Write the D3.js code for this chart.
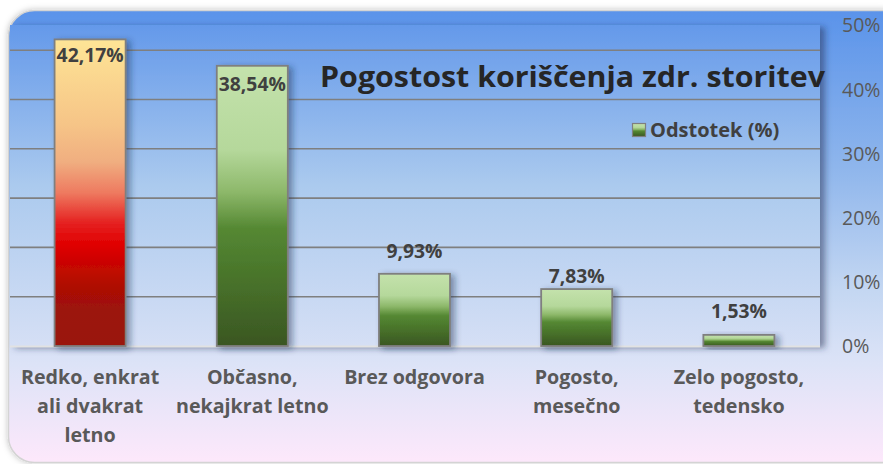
<!DOCTYPE html>
<html>
<head>
<meta charset="utf-8">
<script src="https://cdn.jsdelivr.net/npm/d3@7"></script>
<style>
html,body{margin:0;padding:0;background:#fff;}
svg{display:block;font-family:"Open Sans",Lato,sans-serif;}
</style>
</head>
<body>
<svg id="chart" width="883" height="464"></svg>
<script>
// ---- data ----
const categories = [
  ["Redko, enkrat", "ali dvakrat", "letno"],
  ["Občasno,", "nekajkrat letno"],
  ["Brez odgovora"],
  ["Pogosto,", "mesečno"],
  ["Zelo pogosto,", "tedensko"]
];
const values = [42.17, 38.54, 9.93, 7.83, 1.53];
const valueLabels = ["42,17%", "38,54%", "9,93%", "7,83%", "1,53%"];
const gridValues = [6.78, 13.56, 20.34, 27.12, 33.9, 40.68];
const rightTicks = [0, 10, 20, 30, 40, 50];
const rightTickLabels = ["0%", "10%", "20%", "30%", "40%", "50%"];
const seriesName = "Odstotek (%)";
const title = "Pogostost koriščenja zdr. storitev";

// ---- layout ----
const W = 883, H = 464;
const plot = {x0: 10, x1: 820, y0: 25, y1: 346};
const labelOffsets = [23, 25, -16, -6, -17];

const svg = d3.select("#chart");
const defs = svg.append("defs");

function lg(id, stops) {
  const g = defs.append("linearGradient").attr("id", id)
    .attr("x1", 0).attr("y1", 0).attr("x2", 0).attr("y2", 1);
  stops.forEach(([o, c]) => g.append("stop").attr("offset", o).attr("stop-color", c));
}
lg("outerBg", [[0, "#5a93ea"], [0.35, "#8fb6ec"], [0.62, "#c4d7f2"], [0.78, "#dce3f7"], [1, "#fde8fb"]]);
lg("plotBg", [[0, "#6499ea"], [0.5, "#abcaee"], [1, "#d5dff5"]]);
lg("redGrad", [[0, "#fee596"], [0.28, "#f6c487"], [0.4, "#f0ae80"], [0.5, "#ee7a60"], [0.6, "#e52020"], [0.67, "#e00000"], [0.8, "#b00c05"], [0.88, "#9c1308"], [1, "#9a1208"]]);
lg("greenGrad", [[0, "#c4e2ac"], [0.3, "#b5d89b"], [0.45, "#8db86a"], [0.58, "#558833"], [0.72, "#4b782c"], [1, "#3a5622"]]);

const shadow = defs.append("filter").attr("id", "barShadow")
  .attr("x", "-30%").attr("y", "-30%").attr("width", "170%").attr("height", "160%");
shadow.append("feDropShadow").attr("dx", 4).attr("dy", 2).attr("stdDeviation", 3)
  .attr("flood-color", "#1a2a50").attr("flood-opacity", 0.45);
const pshadow = defs.append("filter").attr("id", "plotShadow")
  .attr("x", "-5%").attr("y", "-5%").attr("width", "110%").attr("height", "110%");
pshadow.append("feDropShadow").attr("dx", 5).attr("dy", 2).attr("stdDeviation", 3)
  .attr("flood-color", "#1a2a50").attr("flood-opacity", 0.5);
const oshadow = defs.append("filter").attr("id", "outerShadow")
  .attr("x", "-5%").attr("y", "-5%").attr("width", "110%").attr("height", "110%");
oshadow.append("feDropShadow").attr("dx", 0).attr("dy", 0).attr("stdDeviation", 3)
  .attr("flood-color", "#000").attr("flood-opacity", 0.25);

// outer background
svg.append("rect").attr("x", 8.5).attr("y", 10.5).attr("width", 900).attr("height", 452)
  .attr("rx", 26).attr("ry", 26)
  .attr("fill", "url(#outerBg)").attr("stroke", "#d4d4d4").attr("stroke-width", 1.5)
  .attr("filter", "url(#outerShadow)");

// plot area
svg.append("rect").attr("x", plot.x0).attr("y", plot.y0)
  .attr("width", plot.x1 - plot.x0).attr("height", plot.y1 - plot.y0)
  .attr("fill", "url(#plotBg)").attr("filter", "url(#plotShadow)");

// scales
const x = d3.scaleBand().domain(d3.range(values.length))
  .range([plot.x0 - 1, plot.x1]).paddingInner(0.562).paddingOuter(0.281);
const y = d3.scaleLinear().domain([0, 44.15]).range([plot.y1, plot.y0]);
const y2 = d3.scaleLinear().domain([0, 50]).range([plot.y1, plot.y0]);

// gridlines
svg.append("g").selectAll("line").data(gridValues).join("line")
  .attr("x1", plot.x0).attr("x2", plot.x1)
  .attr("y1", d => y(d)).attr("y2", d => y(d))
  .attr("stroke", "#7f7f7f").attr("stroke-width", 1.6);

// bottom edge line
svg.append("line").attr("x1", plot.x0).attr("x2", plot.x1)
  .attr("y1", plot.y1 + 0.5).attr("y2", plot.y1 + 0.5)
  .attr("stroke", "#e2e2e2").attr("stroke-width", 2);

// bars
svg.append("g").selectAll("rect").data(values).join("rect")
  .attr("x", (d, i) => x(i)).attr("width", x.bandwidth())
  .attr("y", d => y(d)).attr("height", d => y(0) - y(d))
  .attr("fill", (d, i) => i === 0 ? "url(#redGrad)" : "url(#greenGrad)")
  .attr("stroke", "#7f7f7f").attr("stroke-width", 1.8)
  .attr("filter", "url(#barShadow)");

// value labels
svg.append("g").selectAll("text").data(values).join("text")
  .attr("x", (d, i) => x(i) + x.bandwidth() / 2)
  .attr("y", (d, i) => y(d) + labelOffsets[i])
  .attr("text-anchor", "middle")
  .attr("font-size", 19.3).attr("font-weight", "bold").attr("fill", "#404040")
  .text((d, i) => valueLabels[i]);

// category labels
const cat = svg.append("g").selectAll("text").data(categories).join("text")
  .attr("text-anchor", "middle")
  .attr("font-size", 19.7).attr("font-weight", "bold").attr("fill", "#595959");
cat.each(function(lines, i) {
  d3.select(this).selectAll("tspan").data(lines).join("tspan")
    .attr("x", x(i) + x.bandwidth() / 2)
    .attr("y", (l, j) => 384 + j * 29)
    .text(l => l);
});

// right axis
const axis = d3.axisRight(y2).tickValues(rightTicks)
  .tickFormat((d, i) => rightTickLabels[i]).tickSize(0).tickPadding(0);
const ga = svg.append("g").attr("transform", `translate(842,0)`).call(axis);
ga.select(".domain").remove();
ga.selectAll("text").attr("font-size", 19.5).attr("fill", "#595959")
  .attr("font-family", "Open Sans, sans-serif").attr("dy", "0.35em");

// title
svg.append("text").attr("x", 320).attr("y", 87)
  .attr("font-size", 28).attr("font-weight", "bold").attr("fill", "#262626")
  .attr("textLength", 505).attr("lengthAdjust", "spacingAndGlyphs")
  .text(title);

// legend
svg.append("rect").attr("x", 632.5).attr("y", 123.5).attr("width", 13).attr("height", 13)
  .attr("fill", "url(#greenGrad)").attr("stroke", "#7f7f7f").attr("stroke-width", 1.2);
svg.append("text").attr("x", 650).attr("y", 137)
  .attr("font-size", 20).attr("font-weight", "bold").attr("fill", "#404040")
  .text(seriesName);
</script>
</body>
</html>
